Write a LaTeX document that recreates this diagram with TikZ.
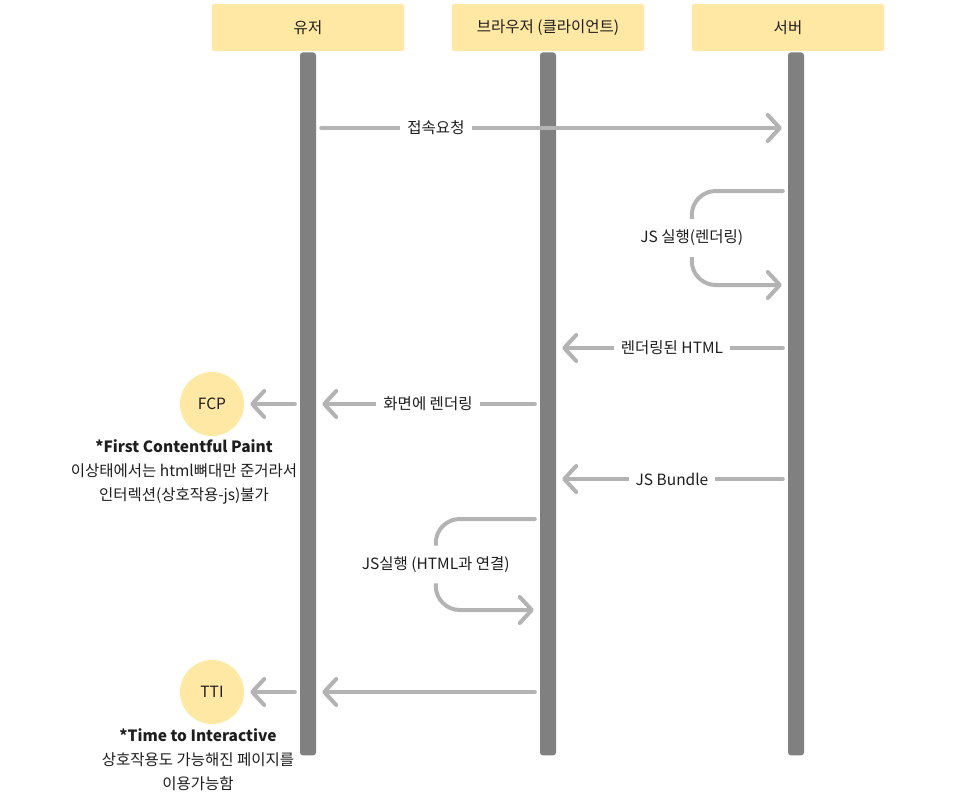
\documentclass[tikz,border=0pt]{standalone}
\usepackage{fontspec}
\setmainfont{Noto Sans CJK KR}
\usetikzlibrary{arrows.meta, positioning, calc}

\definecolor{headyellow}{HTML}{FFE8A3}
\definecolor{lifegray}{HTML}{808080}
\definecolor{arrowgray}{HTML}{B3B3B3}
\definecolor{textdark}{HTML}{1E1E1E}

\begin{document}
\begin{tikzpicture}[
    x=1pt, y=-1pt,
    font=\fontsize{15.5}{18}\selectfont,
    header/.style={
        rectangle,
        rounded corners=2pt,
        fill=headyellow,
        minimum width=192pt,
        minimum height=47pt,
        text=textdark
    },
    lifeline/.style={
        rectangle,
        rounded corners=3pt,
        fill=lifegray,
        minimum width=16pt,
        minimum height=703pt,
        inner sep=0pt
    },
    milestone/.style={
        circle,
        fill=headyellow,
        minimum size=64pt,
        inner sep=0pt,
        text=textdark
    },
    msg/.style={
        -{Straight Barb[length=12pt, width=26pt, round]},
        line width=4pt,
        draw=arrowgray,
        line cap=round,
        shorten <=5pt,
        shorten >=6pt
    },
    lbl/.style={
        fill=white,
        inner xsep=7pt,
        inner ysep=4pt,
        text=textdark
    },
    note/.style={
        align=center,
        text=textdark,
        font=\fontsize{15.5}{24}\selectfont
    }
]
\useasboundingbox (0,0) rectangle (953,807);

% === Participants ===
\node[header] (user) at (308,27.5) {유저};
\node[header] (browser) at (548,27.5) {브라우저 (클라이언트)};
\node[header] (server) at (788,27.5) {서버};

% === Lifelines ===
\node[lifeline, below=1pt of user] (userline) {};
\node[lifeline, below=1pt of browser] (browserline) {};
\node[lifeline, below=1pt of server, xshift=8pt] (serverline) {};

% === Milestones ===
\node[milestone] (fcp) at (212,404) {FCP};
\node[milestone] (tti) at (212,692) {TTI};

% === Messages ===
\draw[msg] (userline.east |- 0,128) -- (serverline.west |- 0,128)
    node[lbl, pos=0.254] {접속요청};
\draw[msg, rounded corners=24pt] (serverline.west |- 0,191) -- ++(-96,0) -- ++(0,94)
    node[lbl, midway, inner ysep=11pt] {JS 실행(렌더링)} -- (serverline.west |- 0,285);
\draw[msg] (serverline.west |- 0,348) -- (browserline.east |- 0,348)
    node[lbl, midway] {렌더링된 HTML};
\draw[msg] (browserline.west |- 0,404) -- (userline.east |- 0,404)
    node[lbl, midway] {화면에 렌더링};
\draw[msg] (userline.west |- fcp) -- (fcp);
\draw[msg] (serverline.west |- 0,479) -- (browserline.east |- 0,479)
    node[lbl, midway] {JS Bundle};
\draw[msg, rounded corners=24pt] (browserline.west |- 0,519) -- ++(-104,0) -- ++(0,91)
    node[lbl, midway, inner ysep=11pt] {JS실행 (HTML과 연결)} -- (browserline.west |- 0,610);
\draw[msg] (browserline.west |- 0,692) -- (userline.east |- 0,692);
\draw[msg] (userline.west |- tti) -- (tti);

% === Notes ===
\node[note] (fcpnote) at (184,472) {{\bfseries *First Contentful Paint}\\이상태에서는 html뼈대만 준거라서\\인터렉션(상호작용-js)불가};
\node[note] (ttinote) at (198,760) {{\bfseries *Time to Interactive}\\상호작용도 가능해진 페이지를\\이용가능함};

\end{tikzpicture}
\end{document}
